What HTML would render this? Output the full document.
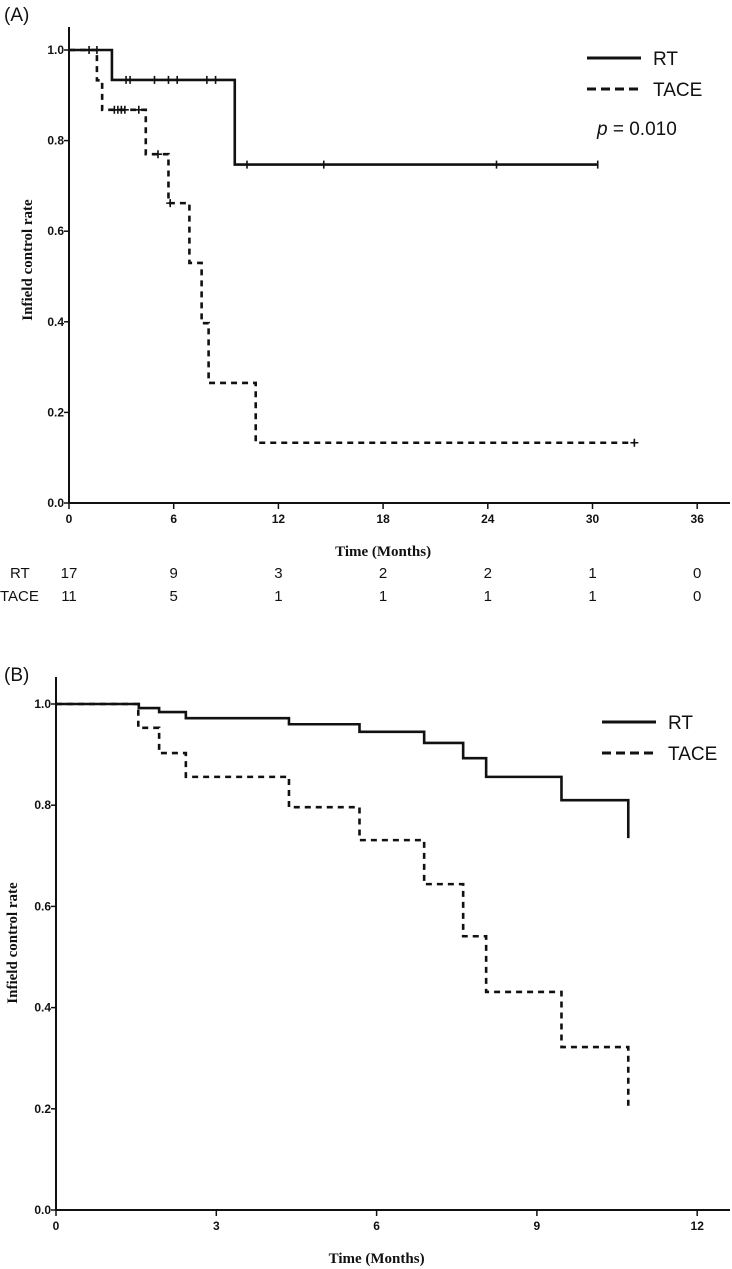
<!DOCTYPE html>
<html><head><meta charset="utf-8"><style>
body{margin:0;background:#fff;}
svg{display:block;font-family:"Liberation Sans",sans-serif;}
.tk{font-size:12px;font-weight:bold;fill:#111;}
.ttl{font-family:"Liberation Serif",serif;font-weight:bold;font-size:15px;fill:#111;}
.leg{font-size:19px;fill:#111;}
.risk{font-size:15px;fill:#111;}
</style></head><body>
<svg id="chart" width="732" height="1269" viewBox="0 0 732 1269"></svg>
<script>
// Panel A data
const aRtTimes=[0,2.46,9.5,30.3];
const aRtVals=[1.0,0.934,0.747,0.747];
const aRtCens=[1.15,1.6,3.27,3.5,4.9,5.7,6.2,7.9,8.4,10.2,14.6,24.5,30.3];
const aTaceTimes=[0,1.6,1.9,4.4,5.7,6.9,7.6,8.0,10.7,32.4];
const aTaceVals=[1.0,0.933,0.868,0.77,0.662,0.53,0.397,0.265,0.133,0.133];
const aTaceCens=[2.6,2.8,3.0,3.2,4.0,5.1,5.8,32.4];
const aXTicks=[0,6,12,18,24,30,36];
const aYTicks=[0,0.2,0.4,0.6,0.8,1.0];
const riskRT=[17,9,3,2,2,1,0];
const riskTACE=[11,5,1,1,1,1,0];
// Panel B data
const bRtTimes=[0,1.55,1.93,2.43,4.36,5.68,6.89,7.62,8.05,9.46,10.71];
const bRtVals=[1.0,0.992,0.984,0.972,0.960,0.945,0.923,0.893,0.856,0.81,0.735];
const bTaceTimes=[0,1.54,1.93,2.43,4.36,5.68,6.89,7.62,8.05,9.46,10.71];
const bTaceVals=[1.0,0.953,0.903,0.856,0.796,0.731,0.644,0.541,0.431,0.322,0.204];
const bXTicks=[0,3,6,9,12];
const bYTicks=[0,0.2,0.4,0.6,0.8,1.0];

const svg=document.getElementById('chart');
const NS='http://www.w3.org/2000/svg';
function mk(tag,attrs,parent){const e=document.createElementNS(NS,tag);for(const k in attrs)e.setAttribute(k,attrs[k]);(parent||svg).appendChild(e);return e;}
function txt(s,x,y,cls,anchor,parent){const t=mk('text',{x:x,y:y,class:cls,'text-anchor':anchor||'start'},parent);t.textContent=s;return t;}

function panel(cfg){
  const g=mk('g',{});
  
  
  const X=v=>cfg.x0+v*cfg.xs, Y=v=>cfg.y0-v*cfg.ys;
  const lab=txt(cfg.label,4,cfg.labelY,'leg','start',g);lab.setAttribute('font-size','20');
  
  const ya=mk('line',{x1:cfg.x0,y1:cfg.axTop,x2:cfg.x0,y2:cfg.y0,stroke:'#111','stroke-width':2},g);
  
  const xa=mk('line',{x1:cfg.x0,y1:cfg.y0,x2:730,y2:cfg.y0,stroke:'#111','stroke-width':2},g);
  
  cfg.yt.forEach(v=>{
    mk('line',{x1:cfg.x0-5,y1:Y(v),x2:cfg.x0,y2:Y(v),stroke:'#111','stroke-width':1.5},g);
    const t=txt(v.toFixed(1),cfg.x0-5,Y(v)+4,'tk','end',g);
    
  });
  cfg.xt.forEach(v=>{
    mk('line',{x1:X(v),y1:cfg.y0,x2:X(v),y2:cfg.y0+6,stroke:'#111','stroke-width':1.5},g);
    const t=txt(String(v),X(v),cfg.y0+20,'tk','middle',g);
    
  });
  const xt=txt('Time (Months)',X(cfg.xt[Math.floor(cfg.xt.length/2)]),cfg.xTitleY,'ttl','middle',g);
  
  const yt=txt('Infield control rate',0,0,'ttl','middle',g);
  yt.setAttribute('transform','translate('+cfg.yTitleX+','+cfg.yTitleY+') rotate(-90)');
  
  cfg.series.forEach(s=>{
    let d='M'+X(s.t[0])+','+Y(s.v[0]);
    for(let i=1;i<s.t.length;i++){d+=' H'+X(s.t[i])+' V'+Y(s.v[i]);}
    const p=mk('path',{d:d,fill:'none',stroke:'#111','stroke-width':2.6,'stroke-dasharray':s.dash?'6,5':'none'},g);
    
    (s.c||[]).forEach(c=>{
      let val=s.v[0];for(let i=0;i<s.t.length;i++){if(s.t[i]<=c)val=s.v[i];}
      const m=mk('path',{d:'M'+X(c)+','+(Y(val)-4)+' V'+(Y(val)+4)+(s.dash?' M'+(X(c)-4)+','+Y(val)+' H'+(X(c)+4):''),stroke:'#111','stroke-width':1.6},g);
      
    });
  });
  const lg=mk('g',{},g);
  mk('line',{x1:cfg.legX,y1:cfg.legY,x2:cfg.legX+54,y2:cfg.legY,stroke:'#111','stroke-width':3},lg);
  txt('RT',cfg.legX+66,cfg.legY+7,'leg','start',lg);
  mk('line',{x1:cfg.legX,y1:cfg.legY+31,x2:cfg.legX+54,y2:cfg.legY+31,stroke:'#111','stroke-width':3,'stroke-dasharray':'9,5'},lg);
  txt('TACE',cfg.legX+66,cfg.legY+38,'leg','start',lg);
  return {g,X,Y};
}

const A=panel({name:'panel-a',label:'(A)',labelY:21,x0:69,xs:104.7/6,y0:503,ys:453,axTop:27,xt:aXTicks,yt:aYTicks,
  xTitleY:556,yTitleX:32,yTitleY:260,legX:587,legY:58,
  series:[{name:'rt-curve-a',t:aRtTimes,v:aRtVals,c:aRtCens,dash:false},{name:'tace-curve-a',t:aTaceTimes,v:aTaceVals,c:aTaceCens,dash:true}]});
const pv=txt('',597,135,'leg','start',A.g);pv.innerHTML='<tspan font-style="italic">p</tspan> = 0.010';

const rl1=txt('RT',10,578,'risk','start',A.g);
const rl2=txt('TACE',0,601,'risk','start',A.g);
aXTicks.forEach((v,i)=>{
  const a=txt(String(riskRT[i]),A.X(v),578,'risk','middle',A.g);
  
  const b=txt(String(riskTACE[i]),A.X(v),601,'risk','middle',A.g);
  
});

panel({name:'panel-b',label:'(B)',labelY:681,x0:56,xs:160.3/3,y0:1210,ys:506,axTop:677,xt:bXTicks,yt:bYTicks,
  xTitleY:1263,yTitleX:17,yTitleY:943,legX:602,legY:722,
  series:[{name:'rt-curve-b',t:bRtTimes,v:bRtVals,dash:false},{name:'tace-curve-b',t:bTaceTimes,v:bTaceVals,dash:true}]});
</script>
</body></html>
